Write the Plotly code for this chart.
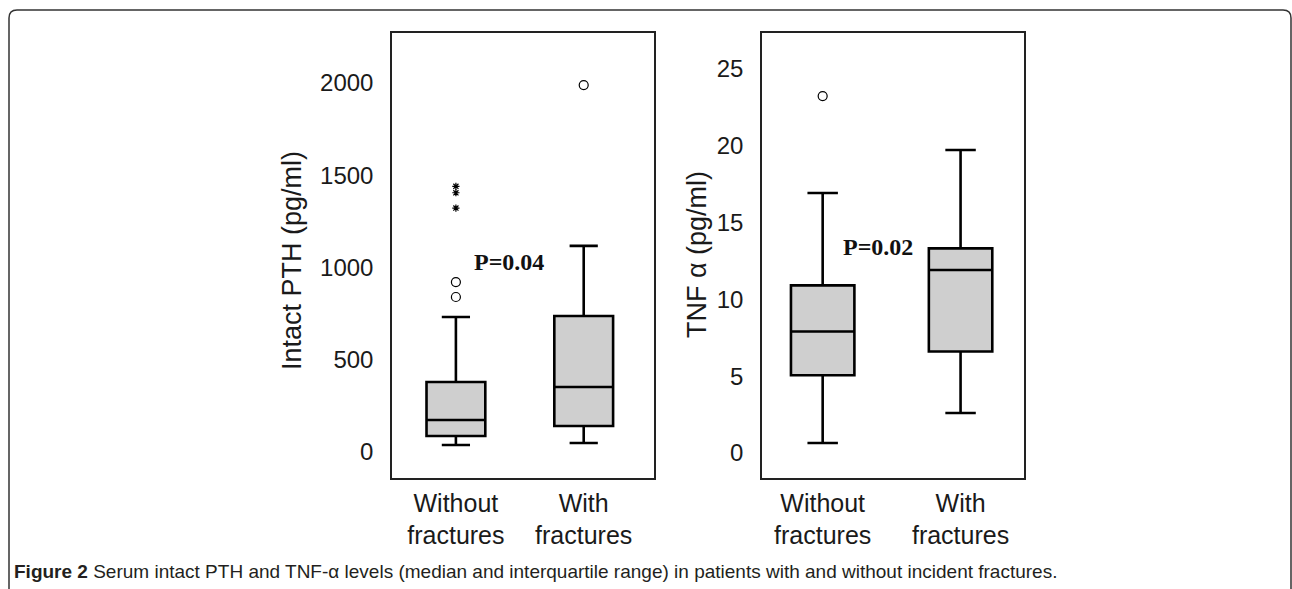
import plotly.graph_objects as go

W, H = 1292, 589

categories = ["Without<br>fractures", "With<br>fractures"]

# Intact PTH (pg/ml)
pth_q1 = [87, 141]
pth_median = [173, 352]
pth_q3 = [379, 737]
pth_lower = [38, 49]
pth_upper = [732, 1117]
pth_circle_x = ["Without<br>fractures", "Without<br>fractures", "With<br>fractures"]
pth_circle_y = [921, 840, 1989]
pth_star_x = ["Without<br>fractures", "Without<br>fractures", "Without<br>fractures"]
pth_star_y = [1440, 1405, 1322]

# TNF alpha (pg/ml)
tnf_q1 = [5.06, 6.6]
tnf_median = [7.9, 11.9]
tnf_q3 = [10.9, 13.3]
tnf_lower = [0.65, 2.6]
tnf_upper = [16.9, 19.7]
tnf_circle_x = ["Without<br>fractures"]
tnf_circle_y = [23.2]

pth_ticks = [0, 500, 1000, 1500, 2000]
tnf_ticks = [0, 5, 10, 15, 20, 25]


def px(x):
    return x / W


def py(y):
    return 1 - y / H


box_style = dict(fillcolor="#cfcfcf", line=dict(color="black", width=2.6),
                 whiskerwidth=0.48, width=0.46, boxpoints=False, showlegend=False,
                 hoverinfo="skip")

fig = go.Figure()
fig.add_trace(go.Box(x=categories, q1=pth_q1, median=pth_median, q3=pth_q3,
                     lowerfence=pth_lower, upperfence=pth_upper,
                     xaxis="x", yaxis="y", **box_style))
fig.add_trace(go.Scatter(x=pth_circle_x, y=pth_circle_y, mode="markers",
                         marker=dict(symbol="circle-open", size=9, color="black",
                                     line=dict(width=1.2)),
                         xaxis="x", yaxis="y", showlegend=False))
fig.add_trace(go.Scatter(x=pth_star_x, y=pth_star_y, mode="markers",
                         marker=dict(symbol="asterisk-open", size=6, color="black",
                                     line=dict(width=1.2)),
                         xaxis="x", yaxis="y", showlegend=False))
fig.add_trace(go.Box(x=categories, q1=tnf_q1, median=tnf_median, q3=tnf_q3,
                     lowerfence=tnf_lower, upperfence=tnf_upper,
                     xaxis="x2", yaxis="y2", **box_style))
fig.add_trace(go.Scatter(x=tnf_circle_x, y=tnf_circle_y, mode="markers",
                         marker=dict(symbol="circle-open", size=9, color="black",
                                     line=dict(width=1.2)),
                         xaxis="x2", yaxis="y2", showlegend=False))

tick_font = dict(family="Liberation Sans, Arial, sans-serif", size=24, color="#1a1a1a")
xtick_font = dict(family="Liberation Sans, Arial, sans-serif", size=25, color="#1a1a1a")

axis_common = dict(showline=True, mirror=True, linecolor="#222", linewidth=1.5,
                   showgrid=False, zeroline=False, ticks="")

fig.update_layout(
    width=W, height=H, autosize=False,
    margin=dict(l=0, r=0, t=0, b=0),
    paper_bgcolor="white", plot_bgcolor="white",
    xaxis=dict(domain=[px(392), px(654)], anchor="y", type="category",
               range=[-0.5, 1.55], tickfont=xtick_font, ticklabelstandoff=2,
               **axis_common),
    yaxis=dict(domain=[py(478), py(33)], anchor="x", range=[-141, 2271],
               tickvals=pth_ticks, tickfont=tick_font, ticklabelstandoff=12,
               **axis_common),
    xaxis2=dict(domain=[px(762), px(1024)], anchor="y2", type="category",
                range=[-0.44, 1.46], tickfont=xtick_font, ticklabelstandoff=2,
                **axis_common),
    yaxis2=dict(domain=[py(478), py(33)], anchor="x2", range=[-1.62, 27.3],
                tickvals=tnf_ticks, tickfont=tick_font, ticklabelstandoff=12,
                **axis_common),
)

title_font = dict(family="Liberation Sans, Arial, sans-serif", size=27, color="#1a1a1a")
p_font = dict(family="Liberation Serif, Times New Roman, serif", size=24, color="#111")

annotations = [
    dict(text="Intact PTH (pg/ml)", x=px(292), y=py(261), xref="paper", yref="paper",
         textangle=-90, showarrow=False, font=title_font, xanchor="center", yanchor="middle"),
    dict(text="TNF α (pg/ml)", x=px(697), y=py(255), xref="paper", yref="paper",
         textangle=-90, showarrow=False, font=title_font, xanchor="center", yanchor="middle"),
    dict(text="<b>P=0.04</b>", x=px(509), y=py(262), xref="paper", yref="paper",
         showarrow=False, font=p_font, xanchor="center", yanchor="middle"),
    dict(text="<b>P=0.02</b>", x=px(878), y=py(247), xref="paper", yref="paper",
         showarrow=False, font=p_font, xanchor="center", yanchor="middle"),
    dict(text="<b>Figure 2</b> Serum intact PTH and TNF-α levels (median and interquartile range) "
              "in patients with and without incident fractures.",
         x=px(12), y=py(571), xref="paper", yref="paper", showarrow=False,
         xanchor="left", yanchor="middle",
         font=dict(family="Liberation Sans, Arial, sans-serif",
                   size=19, color="#231f20")),
]
fig.update_layout(annotations=annotations)

frame_path = (f"M {px(9)} {py(589)} L {px(9)} {py(18)} "
              f"Q {px(9)} {py(10)} {px(17)} {py(10)} "
              f"L {px(1283)} {py(10)} Q {px(1291)} {py(10)} {px(1291)} {py(18)} "
              f"L {px(1291)} {py(589)}")
fig.add_shape(type="path", path=frame_path, xref="paper", yref="paper",
              line=dict(color="#333", width=1.5))

fig.write_html("out.html",
               config={"displayModeBar": False},
               post_script="document.body.style.margin='0';document.body.style.overflow='hidden';")
